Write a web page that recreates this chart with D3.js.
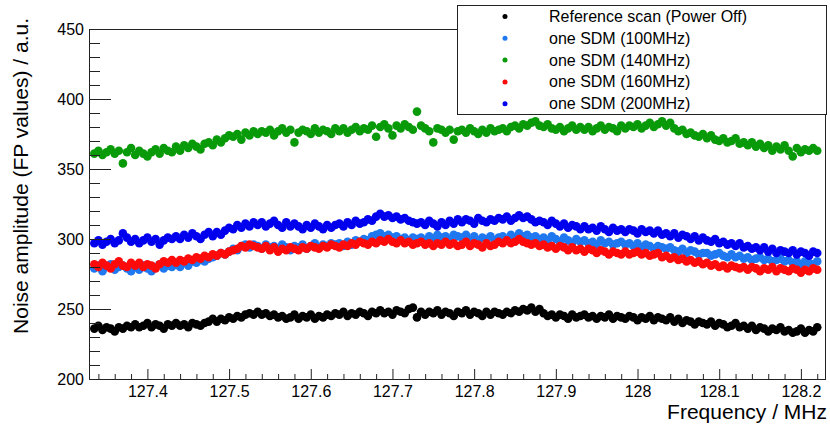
<!DOCTYPE html>
<html>
<head>
<meta charset="utf-8">
<script src="https://cdn.jsdelivr.net/npm/d3@7"></script>
<style>
  html, body { margin: 0; padding: 0; background: #fff; }
  svg { display: block; font-family: "Liberation Sans", Arial, Helvetica, sans-serif; }
</style>
</head>
<body>
<svg id="chart" width="830" height="429"></svg>
<script>
// ---------------- DATA ----------------
const frequencies = [
127.335,127.34,127.345,127.35,127.355,127.36,127.365,127.37,127.375,127.38,
127.385,127.39,127.395,127.4,127.405,127.41,127.415,127.42,127.425,127.43,
127.435,127.44,127.445,127.45,127.455,127.46,127.465,127.47,127.475,127.48,
127.485,127.49,127.495,127.5,127.505,127.51,127.515,127.52,127.525,127.53,
127.535,127.54,127.545,127.55,127.555,127.56,127.565,127.57,127.575,127.58,
127.585,127.59,127.595,127.6,127.605,127.61,127.615,127.62,127.625,127.63,
127.635,127.64,127.645,127.65,127.655,127.66,127.665,127.67,127.675,127.68,
127.685,127.69,127.695,127.7,127.705,127.71,127.715,127.72,127.725,127.73,
127.735,127.74,127.745,127.75,127.755,127.76,127.765,127.77,127.775,127.78,
127.785,127.79,127.795,127.8,127.805,127.81,127.815,127.82,127.825,127.83,
127.835,127.84,127.845,127.85,127.855,127.86,127.865,127.87,127.875,127.88,
127.885,127.89,127.895,127.9,127.905,127.91,127.915,127.92,127.925,127.93,
127.935,127.94,127.945,127.95,127.955,127.96,127.965,127.97,127.975,127.98,
127.985,127.99,127.995,128.0,128.005,128.01,128.015,128.02,128.025,128.03,
128.035,128.04,128.045,128.05,128.055,128.06,128.065,128.07,128.075,128.08,
128.085,128.09,128.095,128.1,128.105,128.11,128.115,128.12,128.125,128.13,
128.135,128.14,128.145,128.15,128.155,128.16,128.165,128.17,128.175,128.18,
128.185,128.19,128.195,128.2,128.205,128.21,128.215,128.22
];

const refScan = [
236,238,235,237,236,234,237,236,238,237,
239,237,238,240,237,239,238,236,239,238,
240,238,239,237,240,239,238,240,241,243,
241,243,242,244,243,245,244,246,247,246,
248,246,247,245,246,244,245,243,244,246,
243,245,244,246,243,245,244,246,245,247,
246,248,245,247,246,248,247,245,248,247,
249,247,248,246,249,248,247,250,251,244,
248,246,248,247,249,246,248,247,245,248,
247,249,246,248,247,245,248,246,248,247,
246,248,247,249,248,250,249,251,248,250,
247,245,246,244,246,245,243,246,244,245,
246,244,245,243,245,244,246,243,245,244,
243,245,244,242,244,243,245,242,244,243,
242,244,241,243,240,242,241,239,241,240,
239,241,238,240,239,237,238,240,237,238,
236,238,235,237,236,234,236,235,237,234,
235,233,234,236,233,235,234,237
];

const sdm100 = [
279,281,277,280,282,278,280,281,279,277,
280,278,281,279,277,280,282,279,281,280,
282,280,283,281,284,283,285,284,286,287,
288,290,289,291,293,292,295,296,294,296,
295,293,296,294,295,293,296,294,292,295,
294,296,293,295,297,294,296,295,297,296,
297,295,298,296,299,298,300,299,302,303,
304,302,303,301,302,300,301,299,301,300,
301,299,302,300,303,301,302,300,303,302,
301,303,300,302,299,301,300,302,299,301,
302,300,303,301,304,302,303,301,302,300,
301,299,302,300,298,301,299,297,300,298,
299,297,298,296,299,297,298,296,297,298,
296,297,295,297,294,296,295,293,295,294,
293,294,292,291,293,290,292,291,289,290,
290,288,289,290,288,287,289,287,288,286,
287,285,286,287,285,286,284,285,286,284,
285,283,284,282,284,283,282,284
];

const sdm140 = [
361,363,360,362,364,361,363,354,362,365,
360,363,361,359,362,364,361,365,363,362,
366,363,367,365,368,366,364,368,369,367,
371,369,372,374,373,375,371,376,374,377,
375,377,376,378,374,377,379,376,378,369,
376,378,377,375,379,376,378,377,375,379,
377,379,376,378,380,377,379,378,381,373,
380,382,379,374,381,379,382,380,378,391,
381,379,377,369,379,378,376,378,371,377,
378,376,379,377,375,378,376,379,377,378,
379,377,380,381,379,382,381,383,384,381,
380,382,379,378,380,377,379,381,378,380,
378,380,377,379,381,378,380,379,377,381,
379,381,380,382,379,381,383,380,382,384,
381,383,379,377,378,375,376,374,373,375,
372,374,371,370,372,369,370,372,368,369,
367,369,366,368,365,367,363,366,364,367,
363,359,365,362,364,363,365,363
];

const sdm160 = [
282,280,283,281,279,282,284,281,280,283,
281,283,280,282,281,279,282,284,283,285,
283,285,284,286,285,287,286,288,287,289,
288,290,289,291,292,293,295,294,296,295,
294,293,295,292,294,291,293,292,294,293,
292,294,293,295,294,293,295,294,296,295,
294,296,295,297,296,298,297,296,298,297,
299,298,300,298,297,299,297,298,296,297,
298,296,297,295,297,296,298,296,297,295,
296,298,295,297,296,294,297,295,296,298,
297,299,297,298,300,298,297,296,297,295,
296,294,295,293,295,294,292,294,292,293,
291,293,292,290,292,291,289,291,290,289,
291,289,290,291,289,290,288,289,290,287,
288,286,287,285,286,284,285,283,284,282,
283,281,282,280,281,279,281,280,279,280,
278,280,279,277,279,278,280,277,279,278,
277,279,278,276,278,277,279,278
];

const sdm200 = [
297,299,296,298,300,297,299,304,301,298,
300,297,299,301,298,300,296,299,301,300,
302,300,303,301,304,302,300,303,305,302,
305,303,306,308,307,310,308,311,309,312,
310,312,309,311,313,310,308,312,309,311,
309,307,310,308,311,309,307,310,308,310,
311,309,312,310,313,311,312,314,313,316,
318,316,317,315,316,314,315,313,312,311,
312,310,313,311,309,312,310,313,311,314,
312,314,313,311,315,313,312,314,313,315,
314,316,313,315,317,315,316,314,312,313,
312,310,313,311,309,311,308,310,309,307,
309,307,308,306,309,307,305,308,306,307,
305,307,306,304,307,305,306,304,306,303,
304,302,304,301,303,302,300,302,299,301,
299,298,300,297,298,296,297,295,297,294,
295,293,294,292,294,291,293,290,292,291,
290,292,289,291,290,288,291,290
];

const seriesNames = [
  "Reference scan (Power Off)",
  "one SDM (100MHz)",
  "one SDM (140MHz)",
  "one SDM (160MHz)",
  "one SDM (200MHz)"
];
const seriesColors = ["#000000", "#1f78f0", "#089a08", "#ff0a0a", "#0000ee"];
const seriesValues = [refScan, sdm100, sdm140, sdm160, sdm200];

const xTickValues = [127.4, 127.5, 127.6, 127.7, 127.8, 127.9, 128.0, 128.1, 128.2];
const xTickLabels = ["127.4", "127.5", "127.6", "127.7", "127.8", "127.9", "128", "128.1", "128.2"];
const yTickValues = [200, 250, 300, 350, 400, 450];
const yTickLabels = ["200", "250", "300", "350", "400", "450"];

const xTitle = "Frequency / MHz";
const yTitle = "Noise amplitude (FP values) / a.u.";

// ---------------- LAYOUT ----------------
const svg = d3.select("#chart");
const L = 89, R = 825, T = 29, B = 379;

const x = d3.scaleLinear().domain([127.3285, 128.2295]).range([L, R]);
const y = d3.scaleLinear().domain([200, 450]).range([B, T]);

// minor tick positions (axis decoration)
const xMinor = d3.range(0, 46).map(k => Math.round((127.34 + 0.02 * k) * 1000) / 1000)
  .filter(v => v <= 128.2295 && !xTickValues.some(t => Math.abs(t - v) < 1e-6));
const yMinor = d3.range(210, 450, 10).filter(v => v % 50 !== 0);

// ---------------- POINTS ----------------
const plot = svg.append("g");
seriesValues.forEach((vals, s) => {
  plot.append("g")
    .attr("fill", seriesColors[s])
    .selectAll("circle")
    .data(vals)
    .join("circle")
    .attr("cx", (d, i) => x(frequencies[i]))
    .attr("cy", d => y(d))
    .attr("r", 4.3);
});

// ---------------- AXES ----------------
const xAxis = svg.append("g").attr("transform", `translate(0,${B})`)
  .call(d3.axisBottom(x).tickValues(xTickValues).tickSize(-10).tickPadding(7)
    .tickFormat((d, i) => xTickLabels[i]));
const xAxisMinor = svg.append("g").attr("transform", `translate(0,${B})`)
  .call(d3.axisBottom(x).tickValues(xMinor).tickSize(-5).tickFormat(""));
const yAxis = svg.append("g").attr("transform", `translate(${L},0)`)
  .call(d3.axisLeft(y).tickValues(yTickValues).tickSize(-22).tickPadding(5)
    .tickFormat((d, i) => yTickLabels[i]));
const yAxisMinor = svg.append("g").attr("transform", `translate(${L},0)`)
  .call(d3.axisLeft(y).tickValues(yMinor).tickSize(-11).tickFormat(""));

[xAxis, xAxisMinor, yAxis, yAxisMinor].forEach(g => {
  g.select(".domain").remove();
  g.selectAll("line").attr("stroke", "#222").attr("stroke-width", 1);
  g.selectAll("text").attr("fill", "#000").attr("font-size", 16)
    .attr("font-family", "'Liberation Sans', Arial, sans-serif");
});

// frame
svg.append("rect")
  .attr("x", L + 0.5).attr("y", T + 0.5)
  .attr("width", R - L).attr("height", B - T)
  .attr("fill", "none").attr("stroke", "#222").attr("stroke-width", 1);

// titles
svg.append("text")
  .attr("x", 827).attr("y", 419)
  .attr("text-anchor", "end")
  .attr("font-size", 21)
  .attr("fill", "#000")
  .text(xTitle);

svg.append("text")
  .attr("transform", "translate(28,18) rotate(-90)")
  .attr("text-anchor", "end")
  .attr("font-size", 21)
  .attr("fill", "#000")
  .text(yTitle);

// ---------------- LEGEND ----------------
const legend = svg.append("g");
legend.append("rect")
  .attr("x", 457.5).attr("y", 5.5)
  .attr("width", 369).attr("height", 109)
  .attr("fill", "#fff").attr("stroke", "#222").attr("stroke-width", 1);

seriesNames.forEach((name, s) => {
  const cy = 16.5 + 21.8 * s;
  legend.append("circle")
    .attr("cx", 505).attr("cy", cy).attr("r", 2.5)
    .attr("fill", seriesColors[s]);
  legend.append("text")
    .attr("x", 549).attr("y", cy)
    .attr("dominant-baseline", "central")
    .attr("font-size", 16)
    .attr("fill", "#000")
    .text(name);
});
</script>
</body>
</html>
